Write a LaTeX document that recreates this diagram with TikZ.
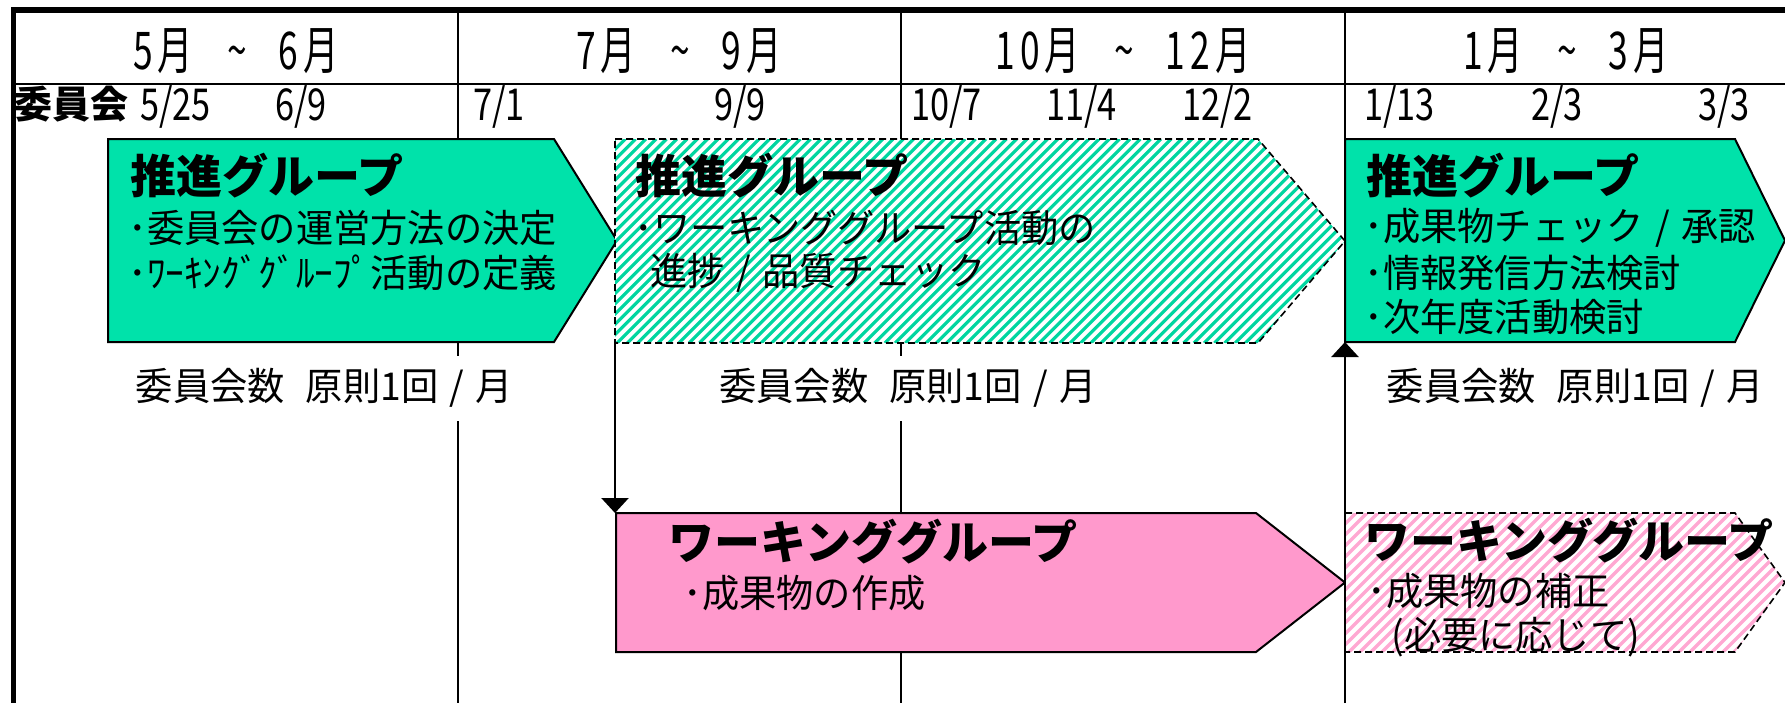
\documentclass[tikz,border=0pt]{standalone}
\usepackage{fontspec}
\setmainfont{Noto Sans CJK JP}
\newfontfamily\hdrfont[FakeStretch=0.68]{Noto Sans CJK JP}
\newfontfamily\numfont[FakeStretch=0.78]{Noto Sans CJK JP}
\newfontfamily\txtfont[FakeStretch=0.97]{Noto Sans CJK JP}
\usetikzlibrary{arrows.meta}
\definecolor{sgreen}{RGB}{0,226,170}
\definecolor{hgreen}{RGB}{0,214,160}
\definecolor{wpink}{RGB}{255,153,204}
\definecolor{hpink}{RGB}{255,168,210}
\newcommand{\dg}[1]{#1\kern2.5pt}
\newcommand{\hdrtext}[2]{#1月\hspace{17pt}\raisebox{0pt}{\char`~}\hspace{16pt}#2月}
\newcommand{\sep}{\hspace{0.3em}/\hspace{0.3em}}
\tikzset{
  gridline/.style={line width=1pt},
  solidbox/.style={draw=black, line width=1pt, line join=miter},
  dashbox/.style={draw=black, line width=0.8pt, dash pattern=on 3.5pt off 2pt},
  ttl/.style={anchor=west, inner sep=0pt, font=\fontsize{23}{26}\selectfont\bfseries},
  itm/.style={anchor=west, inner sep=0pt, font=\txtfont\fontsize{19.2}{22}\selectfont},
  hdr/.style={inner sep=0pt, font=\hdrfont\fontsize{26}{30}\selectfont},
  dt/.style={anchor=west, inner sep=0pt, font=\numfont\fontsize{22}{26}\selectfont},
  cnt/.style={fill=white, inner xsep=2pt, inner ysep=0pt, minimum height=32.5pt, font=\txtfont\fontsize{19.2}{22}\selectfont},
  flow/.style={line width=1.25pt, -{Triangle[width=13.5pt,length=7.5pt]}},
  ghatch/.style={hgreen, line width=1.6pt},
  phatch/.style={hpink, line width=1.7pt},
}
\begin{document}
\begin{tikzpicture}[x=0.5pt,y=-0.5pt]
\useasboundingbox (0,0) rectangle (1785,703);
\fill[white] (0,0) rectangle (1785,703);

% frame and grid
\draw[line width=3pt] (11,10) -- (1785,10);
\draw[line width=2.5pt] (13.5,8) -- (13.5,703);
\draw[line width=1.25pt] (13,84) -- (1785,84);
\draw[gridline] (458,10) -- (458,703);
\draw[gridline] (901,10) -- (901,703);
\draw[gridline] (1345,10) -- (1345,139);

% header
\node[hdr] (h1) at (236,51) {\hdrtext{\dg{5}}{\dg{6}}};
\node[hdr] (h2) at (679,51) {\hdrtext{\dg{7}}{\dg{9}}};
\node[hdr] (h3) at (1123,51) {\hdrtext{\dg{1}\dg{0}}{\dg{1}\dg{2}}};
\node[hdr] (h4) at (1566,51) {\hdrtext{\dg{1}}{\dg{3}}};

% date row
\node[anchor=west, inner sep=0pt, font=\fontsize{19}{22}\selectfont\bfseries] (iinkai) at (14,104) {委員会};
\node[dt] (d1) at (140,106.5) {5/25};
\node[dt] (d2) at (275,106.5) {6/9};
\node[dt] (d3) at (473,106.5) {7/1};
\node[dt] (d4) at (714,106.5) {9/9};
\node[dt] (d5) at (911,106.5) {10/7};
\node[dt] (d6) at (1046,106.5) {11/4};
\node[dt] (d7) at (1182,106.5) {12/2};
\node[dt] (d8) at (1364,106.5) {1/13};
\node[dt] (d9) at (1531,106.5) {2/3};
\node[dt] (d10) at (1698,106.5) {3/3};

% box coordinates
\coordinate (b1nw) at (108,139); \coordinate (b1ne) at (554,139); \coordinate (b1tip) at (617,240.5);
\coordinate (b1se) at (554,342); \coordinate (b1sw) at (108,342);
\coordinate (b2nw) at (615,139); \coordinate (b2ne) at (1258,139); \coordinate (b2tip) at (1345,241);
\coordinate (b2se) at (1258,343); \coordinate (b2sw) at (615,343);
\coordinate (b3nw) at (1345,139); \coordinate (b3ne) at (1735,139); \coordinate (b3tip) at (1785,240.5);
\coordinate (b3se) at (1735,342); \coordinate (b3sw) at (1345,342);
\coordinate (w1nw) at (616,513); \coordinate (w1ne) at (1256,513); \coordinate (w1tip) at (1345,582.5);
\coordinate (w1se) at (1256,652); \coordinate (w1sw) at (616,652);
\coordinate (w2nw) at (1345,513); \coordinate (w2ne) at (1735,513); \coordinate (w2tip) at (1785,582.5);
\coordinate (w2se) at (1735,652); \coordinate (w2sw) at (1345,652);

% box 1 (solid green)
\fill[sgreen] (b1nw) -- (b1ne) -- (b1tip) -- (b1se) -- (b1sw) -- cycle;
\draw[solidbox] (b1nw) -- (b1ne) -- (b1tip) -- (b1se) -- (b1sw) -- cycle;

% box 2 (hatched green)
\begin{scope}
  \clip (b2nw) -- (b2ne) -- (b2tip) -- (b2se) -- (b2sw) -- cycle;
  \fill[white] (b2nw) rectangle (b2tip |- b2se);
  \foreach \i in {0,...,92} \draw[ghatch] (\i*10.3+411,343) -- ++(204,-204);
\end{scope}
\draw[dashbox] (b2nw) -- (b2ne) -- (b2tip) -- (b2se) -- (b2sw) -- cycle;

% box 3 (solid green)
\fill[sgreen] (b3nw) -- (b3ne) -- (b3tip) -- (b3se) -- (b3sw) -- cycle;
\draw[solidbox] (b3nw) -- (b3ne) -- (b3tip) -- (b3se) -- (b3sw) -- cycle;

% working group box (solid pink)
\fill[wpink] (w1nw) -- (w1ne) -- (w1tip) -- (w1se) -- (w1sw) -- cycle;
\draw[solidbox] (w1nw) -- (w1ne) -- (w1tip) -- (w1se) -- (w1sw) -- cycle;

% working group box (hatched pink)
\begin{scope}
  \clip (w2nw) -- (w2ne) -- (w2tip) -- (w2se) -- (w2sw) -- cycle;
  \fill[white] (w2nw) rectangle (w2tip |- w2se);
  \foreach \i in {0,...,54} \draw[phatch] (\i*11+1206,652) -- ++(139,-139);
\end{scope}
\draw[dashbox] (w2nw) -- (w2ne) -- (w2tip) -- (w2se) -- (w2sw) -- cycle;

% box texts
\node[ttl] (t1) at (130,176) {推進グループ};
\node[itm] (t1a) at (128,228) {･委員会の運営方法の決定};
\node[itm] (t1b) at (128,273) {･ﾜｰｷﾝｸﾞｸﾞﾙｰﾌﾟ活動の定義};

\node[ttl] (t2) at (635,176) {推進グループ};
\node[itm] (t2a) at (634,228) {･ワーキンググループ活動の};
\node[itm] (t2b) at (650,273) {進捗\sep 品質チェック};

\node[ttl] (t3) at (1366,176) {推進グループ};
\node[itm] (t3a) at (1364,228) {･成果物チェック\sep 承認};
\node[itm] (t3b) at (1364,273) {･情報発信方法検討};
\node[itm] (t3c) at (1364,317) {･次年度活動検討};

\node[ttl] (t4) at (668,542) {ワーキンググループ};
\node[itm] (t4a) at (683,593) {･成果物の作成};

\node[ttl] (t5) at (1364,541) {ワーキンググループ};
\node[itm] (t5a) at (1367,591) {･成果物の補正};
\node[itm] (t5b) at (1391,637.5) {(必要に応じて)};

% meeting frequency
\node[cnt] (c1) at (324.5,388) {委員会数\hspace{0.55em}原則1回\sep 月};
\node[cnt] (c2) at (908,388) {委員会数\hspace{0.55em}原則1回\sep 月};
\node[cnt] (c3) at (1575.5,388) {委員会数\hspace{0.55em}原則1回\sep 月};

% flow arrows
\coordinate (upbase) at (1345,703);
\draw[flow] (b2sw) -- (b2sw |- w1nw);
\draw[flow] (upbase) -- (b3sw);
\end{tikzpicture}
\end{document}
